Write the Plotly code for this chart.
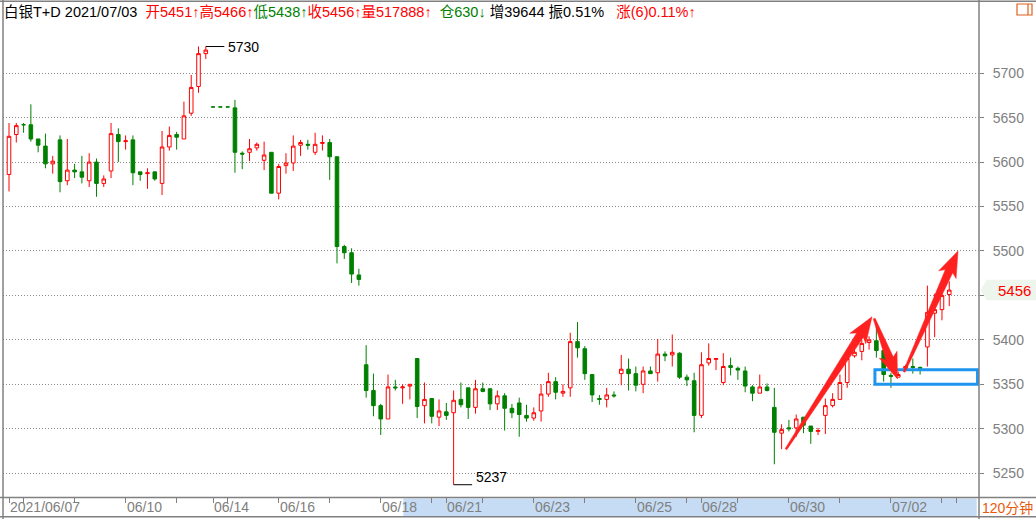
import plotly.graph_objects as go

# ---------------- data (120-minute bars, 白银T+D) ----------------
opens = [5586, 5631, 5642, 5642, 5626, 5618, 5598, 5625, 5579, 5591, 5589, 5579, 5600, 5576,
         5590, 5631, 5623, 5625, 5589, 5587, 5589, 5576, 5617, 5631, 5626, 5655, 5685, 5722,
         5662, 5662, 5662,
         5661, 5610, 5611, 5616, 5602, 5611, 5565, 5596, 5599, 5619, 5620, 5611, 5621, 5622,
         5606, 5505, 5498, 5473,
         5372, 5343, 5326, 5311, 5347, 5346, 5348, 5379, 5326, 5334, 5313, 5319, 5318, 5333,
         5346, 5324, 5345, 5345, 5328, 5337, 5323, 5329, 5315, 5312, 5320, 5339, 5353, 5340,
         5346, 5398, 5390, 5361, 5334, 5333, 5338, 5362, 5367, 5362, 5350, 5365, 5363, 5384,
         5383, 5385, 5358, 5354, 5315, 5374, 5378, 5352, 5371, 5368, 5365, 5347, 5340, 5347,
         5324, 5295, 5301, 5301, 5313, 5303, 5297, 5315, 5326, 5333, 5352, 5382, 5387, 5397,
         5399, 5388, 5360, 5358, 5368, 5370, 5369, 5392, 5430, 5434, 5451]
highs = [5644, 5644, 5644, 5665, 5626, 5632, 5607, 5630, 5626, 5598, 5607, 5610, 5604, 5585,
         5644, 5638, 5630, 5630, 5589, 5593, 5589, 5635, 5640, 5634, 5668, 5698, 5730, 5730,
         5662, 5662, 5662,
         5670, 5612, 5626, 5622, 5623, 5611, 5598, 5610, 5630, 5625, 5625, 5633, 5630, 5626,
         5606, 5507, 5503, 5480,
         5394, 5362, 5328, 5361, 5355, 5350, 5350, 5379, 5352, 5334, 5333, 5329, 5343, 5352,
         5346, 5355, 5352, 5345, 5343, 5340, 5328, 5335, 5327, 5324, 5350, 5363, 5358, 5350,
         5408, 5420, 5393, 5361, 5338, 5346, 5342, 5383, 5379, 5370, 5370, 5370, 5401, 5387,
         5406, 5386, 5361, 5363, 5386, 5396, 5379, 5385, 5380, 5370, 5370, 5349, 5361, 5351,
         5346, 5305, 5310, 5316, 5313, 5303, 5301, 5334, 5340, 5361, 5385, 5393, 5400, 5404,
         5420, 5388, 5363, 5364, 5372, 5379, 5370, 5461, 5452, 5452, 5466]
lows = [5567, 5622, 5633, 5623, 5611, 5593, 5587, 5566, 5574, 5582, 5576, 5572, 5561, 5572,
        5582, 5600, 5614, 5574, 5579, 5570, 5579, 5563, 5613, 5614, 5626, 5652, 5678, 5716,
        5662, 5662, 5662,
        5588, 5592, 5601, 5613, 5591, 5565, 5558, 5587, 5590, 5607, 5614, 5608, 5613, 5580,
        5486, 5491, 5464, 5461,
        5335, 5314, 5293, 5311, 5343, 5328, 5333, 5312, 5306, 5306, 5303, 5310, 5237, 5324,
        5311, 5317, 5341, 5321, 5321, 5298, 5312, 5291, 5308, 5309, 5308, 5336, 5333, 5336,
        5336, 5380, 5355, 5330, 5327, 5324, 5335, 5349, 5343, 5342, 5340, 5362, 5353, 5376,
        5370, 5356, 5348, 5296, 5312, 5371, 5366, 5349, 5360, 5355, 5341, 5331, 5340, 5342,
        5260, 5277, 5297, 5291, 5295, 5283, 5293, 5294, 5324, 5333, 5346, 5380, 5377, 5389,
        5380, 5353, 5346, 5358, 5365, 5362, 5361, 5370, 5403, 5422, 5438]
closes = [5629, 5641, 5642, 5626, 5619, 5598, 5601, 5578, 5591, 5589, 5583, 5600, 5576, 5581,
          5632, 5623, 5624, 5588, 5586, 5588, 5581, 5617, 5630, 5628, 5652, 5684, 5722, 5726,
          5662, 5662, 5662,
          5611, 5609, 5615, 5620, 5608, 5565, 5595, 5599, 5618, 5622, 5619, 5620, 5622, 5606,
          5505, 5498, 5474, 5468,
          5343, 5326, 5311, 5347, 5346, 5347, 5350, 5325, 5333, 5314, 5320, 5315, 5332, 5327,
          5324, 5345, 5342, 5328, 5337, 5323, 5318, 5316, 5312, 5318, 5339, 5353, 5341, 5342,
          5398, 5391, 5362, 5338, 5333, 5338, 5337, 5367, 5362, 5349, 5365, 5362, 5384, 5382,
          5386, 5358, 5355, 5315, 5372, 5379, 5379, 5370, 5369, 5366, 5348, 5340, 5347, 5343,
          5296, 5299, 5300, 5311, 5304, 5297, 5298, 5326, 5333, 5352, 5379, 5386, 5396, 5400,
          5388, 5361, 5359, 5361, 5370, 5369, 5368, 5431, 5434, 5450, 5456]

tick_bars = [0, 16, 28, 37, 51, 60, 72, 86, 95, 107, 121]
tick_labels = ["2021/06/07", "06/10", "06/14", "06/16", "06/18", "06/21",
               "06/23", "06/25", "06/28", "06/30", "07/02"]
minor_tick_bars = [2, 9, 23, 30, 44, 58, 65, 79, 93, 100, 114, 128, 130]
y_ticks = [5250, 5300, 5350, 5400, 5450, 5500, 5550, 5600, 5650, 5700]

high_mark = (27, 5730)     # bar index, price
low_mark = (61, 5237)
last_price = 5456

# user drawn arrows: (tail bar, tail price, tip bar, tip price)
arrows = [(106.6, 5277, 118.4, 5426),
          (118.7, 5424, 121.9, 5356),
          (122.8, 5364, 130.2, 5500)]
box_zone = (118.8, 5350, 5366.4)

# ---------------- figure ----------------
W, H = 1036, 519
ML, MR, MT, MB = 3, 57, 2, 22
PLOT_W = W - ML - MR
PLOT_H = H - MT - MB
X_RANGE = [-0.823, 133.08]
Y_RANGE = [5223.2, 5780.1]
SX = PLOT_W / (X_RANGE[1] - X_RANGE[0])
SY = PLOT_H / (Y_RANGE[1] - Y_RANGE[0])

RED = "#FF0000"
GREEN = "#008000"
GRAY = "#808080"
FONT = "Arial, Liberation Sans, Noto Sans CJK SC, sans-serif"

n = len(opens)
idx = list(range(n))
up = [i for i in idx if closes[i] > opens[i]]
dn = [i for i in idx if closes[i] <= opens[i]]


def sub(lst, ids):
    return [lst[i] for i in ids]


fig = go.Figure()
fig.add_trace(go.Candlestick(
    x=up, open=sub(opens, up), high=sub(highs, up), low=sub(lows, up), close=sub(closes, up),
    increasing=dict(line=dict(color=RED, width=1), fillcolor="white"),
    decreasing=dict(line=dict(color=RED, width=1), fillcolor="white"),
    whiskerwidth=0, showlegend=False, hoverinfo="skip"))
fig.add_trace(go.Candlestick(
    x=dn, open=sub(opens, dn), high=sub(highs, dn), low=sub(lows, dn), close=sub(closes, dn),
    increasing=dict(line=dict(color=GREEN, width=1), fillcolor=GREEN),
    decreasing=dict(line=dict(color=GREEN, width=1), fillcolor=GREEN),
    whiskerwidth=0, showlegend=False, hoverinfo="skip"))

shapes = []
annotations = []


def px_x(paper_px):
    return (paper_px - ML) / PLOT_W


def px_y(paper_py):
    return (H - MB - paper_py) / PLOT_H


# arrows as tapered polygons
def arrow_path(x0, y0, x1, y1, tw=2.0, nw=8.0, hw=19.0, hl=22.0):
    ax, ay = x0 * SX, y0 * SY
    bx, by = x1 * SX, y1 * SY
    dx, dy = bx - ax, by - ay
    L = (dx * dx + dy * dy) ** 0.5
    ux, uy = dx / L, dy / L
    nx, ny = -uy, ux
    cx, cy = bx - ux * hl, by - uy * hl
    bxb, byb = cx - ux * 4, cy - uy * 4
    pts = [(ax + nx * tw / 2, ay + ny * tw / 2),
           (cx + nx * nw / 2, cy + ny * nw / 2),
           (bxb + nx * hw / 2, byb + ny * hw / 2),
           (bx, by),
           (bxb - nx * hw / 2, byb - ny * hw / 2),
           (cx - nx * nw / 2, cy - ny * nw / 2),
           (ax - nx * tw / 2, ay - ny * tw / 2)]
    return "M " + " L ".join(f"{px / SX:.4f},{py / SY:.3f}" for px, py in pts) + " Z"


# blue zone box
shapes.append(dict(type="rect", xref="x", yref="y", x0=box_zone[0], x1=X_RANGE[1] - 0.2,
                   y0=box_zone[1], y1=box_zone[2], line=dict(color="#1E96F0", width=3),
                   layer="above"))
for a in arrows:
    shapes.append(dict(type="path", xref="x", yref="y", path=arrow_path(*a),
                       fillcolor="#FF2020", line=dict(color="#FF2020", width=0.5), layer="above"))

# high / low markers
hx, hp = high_mark
shapes.append(dict(type="line", xref="x", yref="y", x0=hx, x1=hx + 18.5 / SX, y0=hp, y1=hp,
                   line=dict(color="black", width=1)))
annotations.append(dict(x=hx + 20 / SX, y=hp, xref="x", yref="y", text=str(hp), showarrow=False,
                        xanchor="left", yanchor="middle", font=dict(family=FONT, size=14, color="black")))
lx, lp = low_mark
shapes.append(dict(type="line", xref="x", yref="y", x0=lx, x1=lx + 18.5 / SX, y0=lp, y1=lp,
                   line=dict(color="black", width=1)))
annotations.append(dict(x=lx + 20 / SX, y=lp, xref="x", yref="y", text=str(lp), showarrow=False,
                        xanchor="left", yanchor="middle", yshift=8,
                        font=dict(family=FONT, size=14, color="black")))

# bottom strip: scroll band and borders
shapes.append(dict(type="rect", xref="paper", yref="paper", x0=px_x(403.3), x1=px_x(976.7),
                   y0=px_y(498.5), y1=px_y(516.2), fillcolor="#C5DCF4", line=dict(width=0),
                   layer="below"))
shapes.append(dict(type="line", xref="paper", yref="paper", x0=px_x(0), x1=px_x(W),
                   y0=px_y(516.7), y1=px_y(516.7), line=dict(color=GRAY, width=1.5)))
shapes.append(dict(type="line", xref="paper", yref="paper", x0=px_x(0), x1=px_x(W),
                   y0=px_y(497.5), y1=px_y(497.5), line=dict(color=GRAY, width=1.5)))
shapes.append(dict(type="line", xref="paper", yref="paper", x0=px_x(0), x1=px_x(W),
                   y0=px_y(1.2), y1=px_y(1.2), line=dict(color=GRAY, width=1.5)))
shapes.append(dict(type="line", xref="paper", yref="paper", x0=1, x1=1,
                   y0=px_y(H), y1=px_y(0), line=dict(color=GRAY, width=1.5)))
shapes.append(dict(type="line", xref="paper", yref="paper", x0=0, x1=0,
                   y0=px_y(H), y1=px_y(0), line=dict(color=GRAY, width=1.5)))
# small icon top right
shapes.append(dict(type="rect", xref="paper", yref="paper", x0=px_x(1017), x1=px_x(1032),
                   y0=px_y(15), y1=px_y(4), line=dict(color="#E0601A", width=1.2)))
shapes.append(dict(type="line", xref="paper", yref="paper", x0=px_x(1028), x1=px_x(1028),
                   y0=px_y(15), y1=px_y(4), line=dict(color="#E0601A", width=1.2)))

# last price tag
shapes.append(dict(type="path", xref="paper", yref="y",
                   path=(f"M {px_x(980.5):.5f},{last_price} L {px_x(987):.5f},{last_price + 11.5} "
                         f"L {px_x(1036):.5f},{last_price + 11.5} L {px_x(1036):.5f},{last_price - 11.5} "
                         f"L {px_x(987):.5f},{last_price - 11.5} Z"),
                   fillcolor="#EEF5EC", line=dict(width=0), layer="above"))
annotations.append(dict(x=px_x(1033), y=last_price, xref="paper", yref="y", text=str(last_price),
                        showarrow=False, xanchor="right", yanchor="middle",
                        font=dict(family=FONT, size=15, color=RED)))

# x tick labels (left-aligned at tick)
for b, t in zip(tick_bars, tick_labels):
    annotations.append(dict(x=b, y=px_y(507), xref="x", yref="paper", text=t, showarrow=False,
                            xanchor="left", yanchor="middle", xshift=-1,
                            font=dict(family=FONT, size=14, color=GRAY)))
annotations.append(dict(x=px_x(1007), y=px_y(507.5), xref="paper", yref="paper", text="120分钟",
                        showarrow=False, xanchor="center", yanchor="middle",
                        font=dict(family=FONT, size=14, color="#E8580C")))

# header
NB = "\u00a0"
header = ("<span style='color:black'>白银T+D" + NB + "2021/07/03" + NB + NB + "</span>"
          "<span style='color:#FF0000'>开5451↑高5466↑</span>"
          "<span style='color:#008000'>低5438↑</span>"
          "<span style='color:#FF0000'>收5456↑量517888↑</span>" + NB * 2 +
          "<span style='color:#008000'>仓630↓</span>" + NB +
          "<span style='color:black'>增39644" + NB + "振0.51%</span>" + NB * 3 +
          "<span style='color:#FF0000'>涨(6)0.11%↑</span>")
annotations.append(dict(x=px_x(2), y=px_y(12), xref="paper", yref="paper", text=header,
                        showarrow=False, xanchor="left", yanchor="middle",
                        font=dict(family=FONT, size=14.5, color="black")))

all_ticks = sorted(set(tick_bars + minor_tick_bars))
fig.update_layout(
    template="none",
    width=W, height=H,
    margin=dict(l=ML, r=MR, t=MT, b=MB, pad=0),
    paper_bgcolor="white", plot_bgcolor="white",
    showlegend=False,
    shapes=shapes, annotations=annotations,
    xaxis=dict(range=X_RANGE, rangeslider=dict(visible=False), showgrid=False, zeroline=False,
               tickvals=all_ticks, ticktext=[""] * len(all_ticks), ticks="outside", ticklen=5,
               tickcolor=GRAY, showline=False, automargin=False, fixedrange=True),
    yaxis=dict(range=Y_RANGE, side="right", tickvals=y_ticks, ticktext=[str(v) for v in y_ticks],
               showgrid=True, gridcolor="#8a8a8a", griddash="1px,2px", gridwidth=1, zeroline=False,
               ticks="outside", ticklen=4, tickcolor=GRAY, showline=False, ticklabelstandoff=6,
               tickfont=dict(family=FONT, size=14, color=GRAY), automargin=False, fixedrange=True),
)

fig.write_html("out.html", config={"displayModeBar": False},
               post_script="document.body.style.margin='0px';document.body.style.overflow='hidden';")
